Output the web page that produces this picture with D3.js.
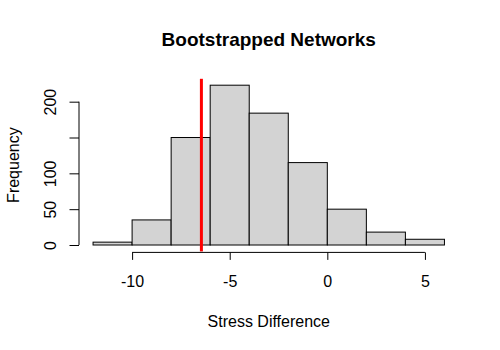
<!DOCTYPE html>
<html>
<head>
<meta charset="utf-8">
<script src="https://cdn.jsdelivr.net/npm/d3@7"></script>
<style>
  body { margin: 0; background: #fff; }
  text { font-family: "Liberation Sans", Arial, sans-serif; fill: #000; }
</style>
</head>
<body>
<div id="chart"></div>
<script>
// bins of width 2 from -12 to 6
const binStarts = [-12, -10, -8, -6, -4, -2, 0, 2, 4];
const binWidth = 2;
const counts = [4, 35, 150, 223, 184, 115, 50, 18, 8];
const xTicks = [-10, -5, 0, 5];
const yTicks = [0, 50, 100, 150, 200];
const yTickLabels = ['0', '50', '100', '', '200'];
const observed = -6.45; // red line

const width = 500, height = 350;
const plot = { left: 79, right: 458.5, top: 78.8, bottom: 251.4 };

const svg = d3.select('#chart').append('svg')
    .attr('width', width).attr('height', height);

// R style 4% padding on the ranges
const x = d3.scaleLinear([-12.72, 6.72], [plot.left, plot.right]);
const yMax = d3.max(counts);
const y = d3.scaleLinear([-yMax * 0.04, yMax * 1.04], [plot.bottom, plot.top]);

// bars
svg.append('g').selectAll('rect')
    .data(binStarts)
    .join('rect')
    .attr('x', d => x(d))
    .attr('y', (d, i) => y(counts[i]))
    .attr('width', d => x(d + binWidth) - x(d))
    .attr('height', (d, i) => y(0) - y(counts[i]))
    .attr('fill', '#d3d3d3')
    .attr('stroke', '#000')
    .attr('stroke-width', 1);

// observed value line
svg.append('line')
    .attr('x1', x(observed)).attr('x2', x(observed))
    .attr('y1', plot.top).attr('y2', plot.bottom)
    .attr('stroke', '#ff0000')
    .attr('stroke-width', 3);

// x axis (only between first and last tick, like R)
const xAxis = d3.axisBottom(x).tickValues(xTicks).tickSize(7.5).tickSizeOuter(0)
    .tickFormat(d3.format('d'));
const gx = svg.append('g')
    .attr('transform', `translate(0,${plot.bottom + 1})`)
    .call(xAxis);
gx.select('.domain').remove();
gx.append('line')
    .attr('x1', x(xTicks[0])).attr('x2', x(xTicks[xTicks.length - 1]))
    .attr('stroke', '#000');
gx.selectAll('.tick text')
    .attr('y', 29).attr('dy', '0.35em')
    .style('font-size', '16px')
    .text(d => d < 0 ? '-' + Math.abs(d) : d);

// y axis
const yAxis = d3.axisLeft(y).tickValues(yTicks).tickSize(9.5).tickSizeOuter(0)
    .tickFormat((d, i) => yTickLabels[i]);
const gy = svg.append('g')
    .attr('transform', `translate(${plot.left},0)`)
    .call(yAxis);
gy.select('.domain').remove();
gy.append('line')
    .attr('y1', y(yTicks[0])).attr('y2', y(yTicks[yTicks.length - 1]))
    .attr('stroke', '#000');
gy.selectAll('.tick text')
    .attr('x', 0)
    .attr('text-anchor', 'middle')
    .attr('transform', 'translate(-29,0) rotate(-90)')
    .attr('dy', '0.35em')
    .style('font-size', '16px');

// title + axis labels
svg.append('text')
    .attr('x', (plot.left + plot.right) / 2).attr('y', 46)
    .attr('text-anchor', 'middle')
    .style('font-size', '19px').style('font-weight', 'bold')
    .text('Bootstrapped Networks');

svg.append('text')
    .attr('x', (plot.left + plot.right) / 2).attr('y', 321)
    .attr('dy', '0.35em')
    .attr('text-anchor', 'middle')
    .style('font-size', '16px')
    .text('Stress Difference');

svg.append('text')
    .attr('transform', `translate(13.5,${(plot.top + plot.bottom) / 2}) rotate(-90)`)
    .attr('dy', '0.35em')
    .attr('text-anchor', 'middle')
    .style('font-size', '16px')
    .text('Frequency');
</script>
</body>
</html>
